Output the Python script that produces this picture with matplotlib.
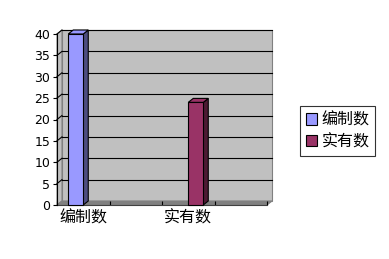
import matplotlib
matplotlib.use('Agg')
import matplotlib.pyplot as plt
from matplotlib.patches import Polygon, Rectangle, Patch

plt.rcParams['font.family'] = ['Noto Sans CJK SC', 'DejaVu Sans']

# data: 4 category slots, only every other label is shown
categories = ['编制数', '', '实有数', '']
series_names = ['编制数', '实有数']
bianzhi = [40, 0, 0, 0]
shiyou = [0, 0, 24, 0]
colors = ['#9999FF', '#993366']
side_colors = ['#4D4D80', '#4D1A33']
yticks = [0, 5, 10, 15, 20, 25, 30, 35, 40]

W, H = 389, 259
fig = plt.figure(figsize=(W / 100, H / 100), dpi=100)
ax = fig.add_axes([57 / W, (H - 205) / H, (267 - 57) / W, (205 - 34) / H])
ax.set_xlim(0, len(categories))
ax.set_ylim(0, 40)
ax.patch.set_visible(False)

# 3d depth in data units
dx = 5 / 52.5
dy = 4 / 4.275
n = len(categories)
top = 40

# back wall, side wall, floor
ax.add_patch(Polygon([(dx, dy), (n + dx, dy), (n + dx, top + dy), (dx, top + dy)],
                     closed=True, fc='#C0C0C0', ec='#808080', lw=0.8, clip_on=False, zorder=1))
ax.add_patch(Polygon([(0, 0), (dx, dy), (dx, top + dy), (0, top)],
                     closed=True, fc='#C0C0C0', ec='#808080', lw=0.8, clip_on=False, zorder=1))
ax.add_patch(Polygon([(0, 0), (n, 0), (n + dx, dy), (dx, dy)],
                     closed=True, fc='#808080', ec='#808080', lw=0.8, clip_on=False, zorder=1))
for v in yticks[1:]:
    ax.plot([dx, n + dx], [v + dy, v + dy], color='black', lw=0.8, clip_on=False, zorder=2)
    ax.plot([0, dx], [v, v + dy], color='black', lw=0.8, clip_on=False, zorder=2)

# bars, gap width 150%
bw = 1 / 3.5
off = 0.75 / 3.5
for s, vals in enumerate([bianzhi, shiyou]):
    for i, v in enumerate(vals):
        if v == 0:
            continue
        x0 = i + off + s * bw
        x1 = x0 + bw
        ax.add_patch(Polygon([(x1, 0), (x1 + dx, dy), (x1 + dx, v + dy), (x1, v)], closed=True,
                             fc=side_colors[s], ec='black', lw=0.8, clip_on=False, zorder=3))
        ax.add_patch(Polygon([(x0, v), (x0 + dx, v + dy), (x1 + dx, v + dy), (x1, v)], closed=True,
                             fc=colors[s], ec='black', lw=0.8, clip_on=False, zorder=3))
        ax.add_patch(Rectangle((x0, 0), bw, v, fc=colors[s], ec='black', lw=0.8,
                               clip_on=False, zorder=4))

for sp in ['top', 'right']:
    ax.spines[sp].set_visible(False)
ax.spines['left'].set_linewidth(0.8)
ax.spines['bottom'].set_linewidth(0.8)
ax.spines['left'].set_zorder(5)
ax.spines['bottom'].set_color('#404040')

ax.set_yticks(yticks)
ax.set_yticklabels([str(v) for v in yticks], fontsize=9, family='DejaVu Sans')
ax.tick_params(axis='y', length=3, width=0.8, pad=2)

label_pos = [i + 0.5 for i, c in enumerate(categories) if c]
ax.set_xticks(label_pos)
ax.set_xticklabels([c for c in categories if c], fontsize=11.5)
ax.tick_params(axis='x', length=0, pad=3)
ax.set_xticks(range(n + 1), minor=True)
ax.tick_params(axis='x', which='minor', length=3, width=0.8, direction='in')

handles = [Patch(fc=colors[i], ec='black', lw=0.8, label=series_names[i]) for i in range(2)]
leg = fig.legend(handles=handles, loc='upper left', bbox_to_anchor=(300 / W, 1 - 106 / H),
                 fontsize=11.5, frameon=True, fancybox=False, handlelength=0.7, handleheight=0.7,
                 handletextpad=0.3, borderpad=0.35, labelspacing=0.3, borderaxespad=0)
leg.get_frame().set_edgecolor('black')
leg.get_frame().set_linewidth(0.8)

fig.savefig('out.png', dpi=100, facecolor='white')
